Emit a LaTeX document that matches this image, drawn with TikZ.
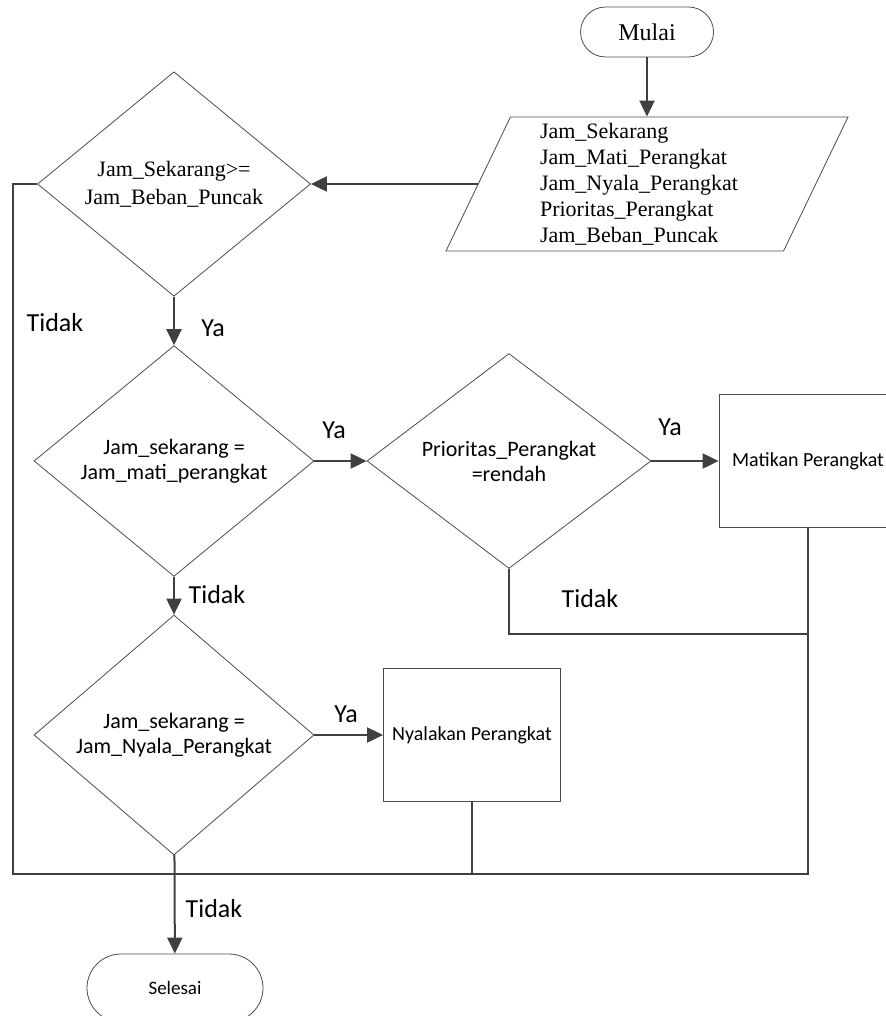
\documentclass[tikz,border=0pt]{standalone}
\usepackage{fontspec}
\setmainfont{Liberation Serif}
\newfontfamily\calibri{Carlito}
\usetikzlibrary{shapes.geometric, arrows.meta, calc}

\tikzset{
  flow/.style = {draw = black!75, line width = 2pt, -{Triangle[length=16pt, width=15pt]}},
  joint/.style = {draw = black!75, line width = 2pt},
  cond/.style = {diamond, draw = black!70, line width = 0.8pt, inner sep = 0pt,
    minimum width = 280pt, minimum height = 210pt, align = center,
    font = \calibri\fontsize{22}{25}\selectfont},
  proc/.style = {rectangle, draw = black!70, line width = 0.8pt,
    minimum width = 178pt, minimum height = 133pt,
    font = \calibri\fontsize{20}{24}\selectfont},
  term/.style = {rectangle, draw = black!70, line width = 0.8pt},
  lbl/.style = {font = \calibri\fontsize{26}{30}\selectfont}
}

\begin{document}
\begin{tikzpicture}[x=1pt, y=-1pt]
    \useasboundingbox (0,0) rectangle (885,1016);
    \node[
    term,
    minimum width = 133pt,
    minimum height = 50pt,
    rounded corners = 25pt,
    font = \fontsize{24}{28}\selectfont
    ] (mulai) at (647,32) {Mulai};
    \node[
    trapezium,
    trapezium left angle = 63.4,
    trapezium right angle = 116.6,
    trapezium stretches body,
    draw = black!70,
    line width = 0.8pt,
    minimum width = 402pt,
    minimum height = 134pt,
    align = left,
    font = \fontsize{22}{26}\selectfont
    ] (input) at (647,184) {Jam\_Sekarang\\Jam\_Mati\_Perangkat\\Jam\_Nyala\_Perangkat\rule{16pt}{0pt}\\Prioritas\_Perangkat\\Jam\_Beban\_Puncak};
    \node[
    cond,
    minimum width = 273pt,
    minimum height = 205pt,
    font = \fontsize{22}{28}\selectfont
    ] (d1) at (174,184) {Jam\_Sekarang>=\\Jam\_Beban\_Puncak};
    \node[cond] (d2) at (174,461) {Jam\_sekarang =\\Jam\_mati\_perangkat};
    \node[cond, minimum width = 284pt] (d3) at (509,461) {Prioritas\_Perangkat\\=rendah};
    \node[cond, minimum height = 212pt] (d4) at (174,735) {Jam\_sekarang =\\Jam\_Nyala\_Perangkat};
    \node[proc] (mati) at (808,461) {Matikan Perangkat};
    \node[proc, minimum width = 177pt] (nyala) at (472,735) {Nyalakan Perangkat};
    \node[
    term,
    minimum width = 176pt,
    minimum height = 68pt,
    rounded corners = 34pt,
    font = \calibri\fontsize{19}{22}\selectfont
    ] (selesai) at (175,988) {Selesai};
    \coordinate (join) at (174,874);

    \draw[flow] (mulai) -- (input);
    \draw[flow] (input.left side) -- (input.left side -| d1.east);
    \draw[flow] (d1) -- (d2);
    \draw[flow] (d2) -- (d3);
    \draw[flow] (d3) -- (mati);
    \draw[flow] (d2) -- (d4);
    \draw[flow] (d4) -- (nyala);
    \draw[flow] (d4) -- (selesai);
    \draw[joint] (d1.west) -- ++(-24,0) |- (join);
    \draw[joint] (mati.south) |- (join);
    \draw[joint] (nyala.south) -- (nyala.south |- join);
    \draw[joint] (d3.south) -- ++(0,65) -| (mati.south);

    \node[lbl] (ya1) at (213,328) {Ya};
    \node[lbl] (ya2) at (334,430) {Ya};
    \node[lbl] (ya3) at (670,427) {Ya};
    \node[lbl] (ya4) at (346,714) {Ya};
    \node[lbl] (tidak1) at (55,323) {Tidak};
    \node[lbl] (tidak2) at (217,595) {Tidak};
    \node[lbl] (tidak3) at (590,599) {Tidak};
    \node[lbl] (tidak4) at (214,909) {Tidak};
  \end{tikzpicture}
\end{document}
